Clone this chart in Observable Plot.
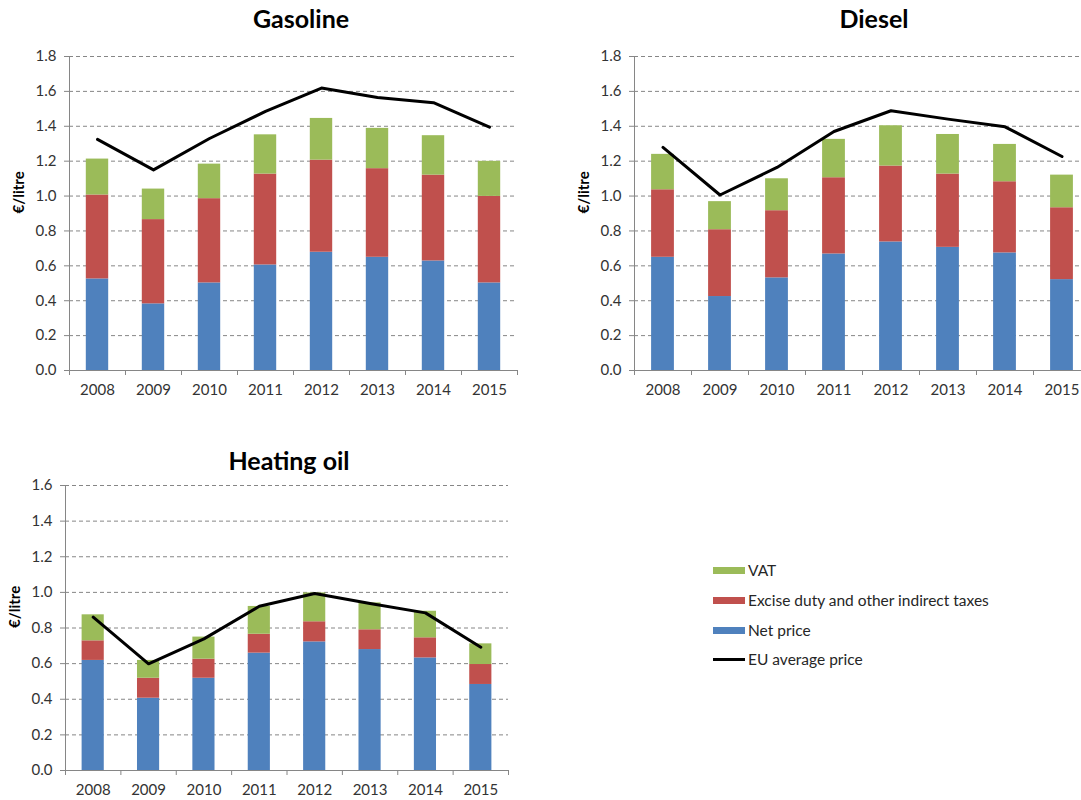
<!DOCTYPE html>
<html>
<head>
<meta charset="utf-8">
<script src="https://cdn.jsdelivr.net/npm/d3@7"></script>
<script src="https://cdn.jsdelivr.net/npm/@observablehq/plot@0.6"></script>
<style>
  html, body { margin: 0; padding: 0; background: #fff; }
  #page { position: relative; width: 1081px; height: 800px; overflow: hidden; font-family: Lato, "Open Sans", sans-serif; color: #262626; }
  .panel { position: absolute; }
  .title { position: absolute; font-family: Lato, sans-serif; font-weight: bold; font-size: 25px; line-height: 30px; color: #000; transform: translateX(-50%); white-space: nowrap; }
  .legend { position: absolute; left: 713px; top: 560px; font-size: 15.5px; color: #262626; }
  .legend .row { position: absolute; left: 0; height: 20px; width: 330px; }
  .legend .sw { position: absolute; left: 0; width: 32px; }
  .legend .lab { position: absolute; left: 35px; top: 0; line-height: 20px; white-space: nowrap; }
</style>
</head>
<body>
<div id="page"></div>
<script>
// ---- Data ----
const years = [2008, 2009, 2010, 2011, 2012, 2013, 2014, 2015];

const gasolineNet    = [0.525, 0.382, 0.502, 0.605, 0.678, 0.649, 0.628, 0.502];
const gasolineExcise = [0.481, 0.483, 0.483, 0.521, 0.528, 0.508, 0.492, 0.496];
const gasolineVAT    = [0.206, 0.175, 0.198, 0.225, 0.239, 0.231, 0.226, 0.201];
const gasolineEU     = [1.325, 1.150, 1.330, 1.485, 1.619, 1.565, 1.535, 1.395];

const dieselNet      = [0.649, 0.424, 0.531, 0.668, 0.737, 0.706, 0.674, 0.521];
const dieselExcise   = [0.387, 0.383, 0.385, 0.437, 0.435, 0.420, 0.408, 0.412];
const dieselVAT      = [0.203, 0.161, 0.183, 0.220, 0.231, 0.227, 0.214, 0.187];
const dieselEU       = [1.279, 1.006, 1.164, 1.370, 1.489, 1.441, 1.397, 1.227];

const heatingNet     = [0.618, 0.406, 0.518, 0.659, 0.722, 0.679, 0.632, 0.483];
const heatingExcise  = [0.110, 0.112, 0.107, 0.106, 0.113, 0.111, 0.113, 0.112];
const heatingVAT     = [0.146, 0.100, 0.124, 0.156, 0.162, 0.151, 0.149, 0.116];
const heatingEU      = [0.861, 0.599, 0.739, 0.922, 0.994, 0.937, 0.885, 0.692];

const seriesNames = ["Net price", "Excise duty and other indirect taxes", "VAT"];
const seriesColors = ["#4F81BD", "#C0504D", "#9BBB59"];
const lineName = "EU average price";
const yLabel = "€/litre";
const ticks18 = [0, 0.2, 0.4, 0.6, 0.8, 1.0, 1.2, 1.4, 1.6, 1.8];
const ticks16 = [0, 0.2, 0.4, 0.6, 0.8, 1.0, 1.2, 1.4, 1.6];

// ---- Helpers ----
const page = document.getElementById("page");
const gray = "#868686";

function buildRows(net, excise, vat) {
  const rows = [];
  years.forEach((yr, i) => {
    const parts = [net[i], excise[i], vat[i]];
    let base = 0;
    parts.forEach((v, k) => {
      rows.push({year: yr, series: seriesNames[k], y1: base, y2: base + v});
      base += v;
    });
  });
  return rows;
}

function panel({net, excise, vat, eu, yMax, yTicks, left, top, width, height, mL, mR, mT, mB, title, titleX, titleTop}) {
  const rows = buildRows(net, excise, vat);
  const lineData = years.map((yr, i) => ({year: yr, value: eu[i]}));
  const bounds = years.map(y => y - 0.5).concat([years[years.length - 1] + 0.5]);
  const chart = Plot.plot({
    width, height,
    marginLeft: mL, marginRight: mR, marginTop: mT, marginBottom: mB,
    style: {fontFamily: "Lato, 'Open Sans', sans-serif", fontSize: "15px", color: "#333", background: "transparent", overflow: "visible"},
    x: {domain: [bounds[0], bounds[bounds.length - 1]], axis: null},
    y: {domain: [0, yMax], axis: null},
    color: {domain: seriesNames, range: seriesColors},
    marks: [
      Plot.gridY(yTicks.filter(t => t > 0), {stroke: gray, strokeOpacity: 1, strokeDasharray: "4,3"}),
      Plot.rect(rows, {x1: d => d.year - 0.2, x2: d => d.year + 0.2, y1: "y1", y2: "y2", fill: "series"}),
      Plot.line(lineData, {x: "year", y: "value", stroke: "#000", strokeWidth: 3}),
      Plot.ruleX([bounds[0]], {stroke: gray}),
      Plot.ruleY([0], {stroke: gray}),
      Plot.axisY({ticks: yTicks, tickFormat: d3.format(".1f"), tickSize: 5, tickPadding: 8, stroke: gray, fill: "#333", label: null}),
      Plot.axisX({ticks: bounds, tickFormat: () => "", tickSize: 5, stroke: gray, label: null}),
      Plot.axisX({ticks: years, tickFormat: d => String(d), tickSize: 0, tickPadding: 14, fill: "#333", label: null}),
      Plot.text([yLabel], {frameAnchor: "left", dx: -50, rotate: -90, fontWeight: "bold", fontSize: 15, fill: "#000"})
    ]
  });
  chart.classList.add("panel");
  chart.style.left = left + "px";
  chart.style.top = top + "px";
  page.appendChild(chart);

  const t = document.createElement("div");
  t.className = "title";
  t.textContent = title;
  t.style.left = titleX + "px";
  t.style.top = titleTop + "px";
  page.appendChild(t);
}

panel({net: gasolineNet, excise: gasolineExcise, vat: gasolineVAT, eu: gasolineEU, yMax: 1.8, yTicks: ticks18,
  left: 0, top: 40, width: 530, height: 370, mL: 69, mR: 13, mT: 16, mB: 40,
  title: "Gasoline", titleX: 301, titleTop: 3});

panel({net: dieselNet, excise: dieselExcise, vat: dieselVAT, eu: dieselEU, yMax: 1.8, yTicks: ticks18,
  left: 540, top: 40, width: 560, height: 370, mL: 94, mR: 10, mT: 16, mB: 40,
  title: "Diesel", titleX: 874, titleTop: 3});

panel({net: heatingNet, excise: heatingExcise, vat: heatingVAT, eu: heatingEU, yMax: 1.6, yTicks: ticks16,
  left: 0, top: 470, width: 530, height: 330, mL: 65, mR: 22, mT: 15, mB: 30,
  title: "Heating oil", titleX: 289, titleTop: 445});

// ---- Legend ----
const legend = document.createElement("div");
legend.className = "legend";
const legendItems = [
  {name: seriesNames[2], color: seriesColors[2], type: "bar"},
  {name: seriesNames[1], color: seriesColors[1], type: "bar"},
  {name: seriesNames[0], color: seriesColors[0], type: "bar"},
  {name: lineName, color: "#000", type: "line"}
];
const legendTops = [0, 30, 60, 89];
legendItems.forEach((it, i) => {
  const row = document.createElement("div");
  row.className = "row";
  row.style.top = legendTops[i] + "px";
  const sw = document.createElement("div");
  sw.className = "sw";
  sw.style.background = it.color;
  if (it.type === "bar") { sw.style.top = "7px"; sw.style.height = "7px"; }
  else { sw.style.top = "9px"; sw.style.height = "2.5px"; }
  const lab = document.createElement("div");
  lab.className = "lab";
  lab.textContent = it.name;
  row.appendChild(sw);
  row.appendChild(lab);
  legend.appendChild(row);
});
page.appendChild(legend);
</script>
</body>
</html>
